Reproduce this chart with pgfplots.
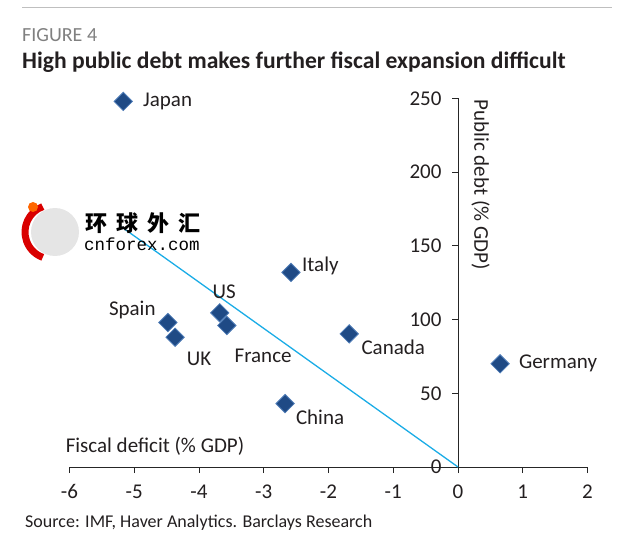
\documentclass[border=0pt]{standalone}
\usepackage{pgfplots}
\pgfplotsset{compat=1.18}
\usepackage{fontspec}
\setmainfont{Carlito}
\newfontfamily\cjk{Noto Sans CJK SC}
\newfontfamily\monof{Liberation Mono}
\definecolor{mk}{HTML}{1F4A85}
\definecolor{mkedge}{HTML}{4F7DB8}
\definecolor{trend}{HTML}{1AACE6}
\definecolor{txt}{HTML}{231F20}
\begin{document}
\begin{tikzpicture}
\useasboundingbox (0pt,0pt) rectangle (630pt,550pt);
\draw[gray!50, line width=1pt] (22pt,542pt) -- (612pt,542pt);
\node[anchor=base west, inner sep=0, text=gray, font=\fontsize{20}{24}\selectfont] at (22pt,508pt) {FIGURE 4};
\node[anchor=base west, inner sep=0, text=txt, font=\fontsize{23.6}{27}\selectfont\bfseries] at (22pt,481pt) {High public debt makes further fiscal expansion difficult};
\node[anchor=base west, inner sep=0, text=txt, font=\fontsize{18}{21}\selectfont] at (25pt,23pt) {Source: IMF, Haver Analytics. Barclays Research};
\begin{axis}[at={(458pt,83pt)}, anchor=origin, scale only axis, width=518pt, height=368.5pt,
 xmin=-6, xmax=2, ymin=0, ymax=250,
 axis lines=middle, axis line style={-, line width=0.8pt, black!85},
 xtick={-6,-5,-4,-3,-2,-1,0,1,2}, ytick={0,50,100,150,200,250},
 hide obscured x ticks=false, hide obscured y ticks=false,
 major tick length=6pt,
 xtick style={yshift=-3pt}, ytick style={xshift=-3pt},
 tick style={black!85, line width=0.8pt},
 ticklabel style={font=\fontsize{21}{24}\selectfont, text=txt},
 xticklabel style={yshift=-11pt},
 yticklabel style={xshift=-10pt},
 /pgf/number format/assume math mode=true,
 clip=false,
 ]
\addplot[trend, line width=1.3pt] coordinates {(-5.2,163) (0,0)};
\addplot[only marks, mark=square*, mark size=6.5pt, mark options={rotate=45, fill=mk, draw=mkedge, line width=0.8pt}] coordinates {
(-5.17,248) (-2.58,132) (-3.68,104.6) (-3.57,96) (-4.48,98) (-4.37,88) (-1.68,90.3) (-2.67,43) (0.65,70)};
\begin{scope}[every node/.style={font=\fontsize{21}{24}\selectfont, text=txt, inner sep=0}]
\node[anchor=west] at (axis cs:-4.865,248) {Japan};
\node[anchor=west] at (axis cs:-2.41,136.5) {Italy};
\node at (axis cs:-3.61,119) {US};
\node at (axis cs:-5.03,106.7) {Spain};
\node at (axis cs:-4.0,73.4) {UK};
\node at (axis cs:-3.01,75.4) {France};
\node at (axis cs:-1.0,81.5) {Canada};
\node at (axis cs:-2.13,34) {China};
\node at (axis cs:1.545,70) {Germany};
\node at (axis cs:-4.68,14) {Fiscal deficit (\% GDP)};
\node[rotate=-90] at (axis cs:0.35,191.5) {Public debt (\% GDP)};
\end{scope}
\end{axis}
% watermark
\fill[gray!20] (55pt,318pt) circle (24pt);
\draw[red!85!black, line width=7pt] (52pt,318pt) ++(110:27pt) arc (110:250:27pt);
\fill[orange!80!red] (33pt,343pt) circle (5pt);
\node[anchor=base west, inner sep=0, font=\cjk\bfseries\fontsize{22}{26}\selectfont] at (85pt,318pt) {环\hspace{9pt}球\hspace{9pt}外\hspace{9pt}汇};
\node[anchor=base west, inner sep=0, font=\monof\fontsize{17.5}{20}\selectfont] at (84pt,299pt) {cnforex.com};
\end{tikzpicture}
\end{document}
